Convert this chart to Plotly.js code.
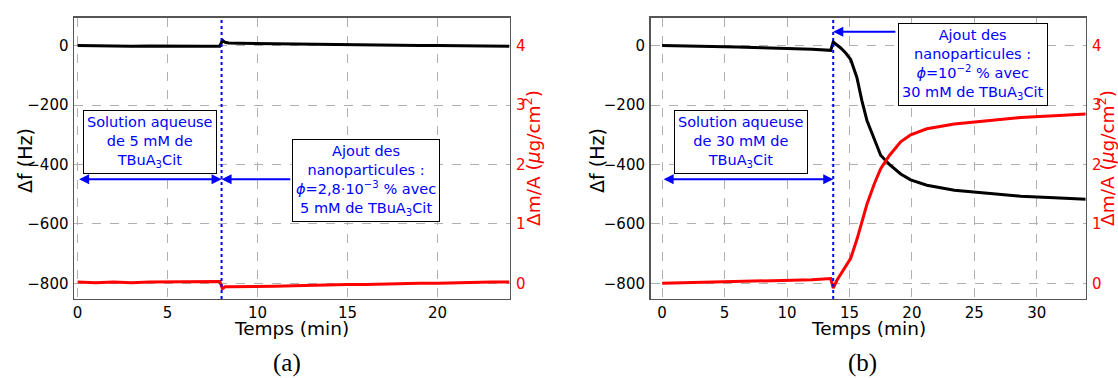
<!DOCTYPE html>
<html>
<head>
<meta charset="utf-8">
<script src="https://cdn.plot.ly/plotly-3.0.1.min.js"></script>
<style>html,body{margin:0;padding:0;background:#fff}#chart{width:1118px;height:378px}</style>
</head>
<body>
<div id="chart"></div>
<script>
// ---- Panel (a) data ----
const timeA = [0, 1, 2, 3, 4, 5, 6, 7, 7.9, 8.05, 8.2, 8.4, 9, 10, 11, 12, 13, 14, 15, 16, 17, 18, 19, 20, 21, 22, 23, 24];
const dfA   = [0, -1, 0, -2, -1, -2, -1, -2, -2, 18, 11, 9, 8, 7, 6, 5, 4, 4, 3, 2, 2, 1, 0, 0, -1, -1, -2, -2];
const dmA   = [0.02, 0.01, 0.02, 0.01, 0.02, 0.02, 0.03, 0.02, 0.03, -0.09, -0.06, -0.06, -0.06, -0.05, -0.05, -0.04, -0.03, -0.03, -0.02, -0.02, -0.01, -0.01, 0.0, 0.0, 0.01, 0.01, 0.02, 0.02];
const injectA = [8.0];

// ---- Panel (b) data ----
const timeB = [0, 2, 4, 6, 8, 10, 12, 13.5, 13.7, 14.0, 14.3, 14.7, 15.1, 15.6, 16.0, 16.4, 17.0, 17.5, 18.2, 19.1, 19.9, 21.2, 23.4, 26.0, 28.7, 31.4, 34.0];
const dfB   = [0, -1, -3, -5, -7, -9, -12, -16, 12, 2, -8, -25, -47, -108, -186, -252, -319, -369, -400, -432, -452, -470, -487, -498, -507, -512, -517];
const dmB   = [0.0, 0.01, 0.02, 0.03, 0.04, 0.05, 0.06, 0.08, -0.08, 0.05, 0.15, 0.27, 0.42, 0.74, 1.02, 1.33, 1.68, 1.93, 2.15, 2.38, 2.50, 2.60, 2.68, 2.74, 2.79, 2.82, 2.85];
const injectB = [13.7];

const xTicksA = [0, 5, 10, 15, 20];
const xTicksB = [0, 5, 10, 15, 20, 25, 30];
const dfTicks = [-800, -600, -400, -200, 0];
const dmTicks = [0, 1, 2, 3, 4];

const FONT = 'DejaVu Sans';
const BLUE = '#0000ff';
const RED = '#ff0000';
const yDom = [0.209, 0.9532];

function axisX(domain, range, ticks, anchor) {
  return {domain: domain, range: range, anchor: anchor, tickvals: ticks, ticks: '', 
    showgrid: true, gridcolor: '#b0b0b0', griddash: 'dash', gridwidth: 1,
    showline: true, mirror: true, linecolor: '#555', linewidth: 1.5, zeroline: false,
    tickfont: {family: FONT, size: 15, color: '#000'}};
}
function axisYL(anchor) {
  return {domain: yDom, range: [-853, 94], anchor: anchor, tickvals: dfTicks, ticks: '',
    showgrid: true, gridcolor: '#b0b0b0', griddash: 'dash', gridwidth: 1,
    showline: true, linecolor: '#555', linewidth: 1.5, zeroline: false,
    tickfont: {family: FONT, size: 15, color: '#000'}, ticklabelstandoff: 1};
}
function axisYR(overlay, anchor) {
  return {overlaying: overlay, side: 'right', anchor: anchor, range: [-0.265, 4.47], tickvals: dmTicks, ticks: '',
    showgrid: false, showline: true, linecolor: '#555', linewidth: 1.5, zeroline: false,
    tickfont: {family: FONT, size: 15, color: RED}, ticklabelstandoff: 2};
}

const traces = [
  {x: timeA, y: dfA, xaxis: 'x', yaxis: 'y', mode: 'lines', line: {color: '#000', width: 3}},
  {x: timeA, y: dmA, xaxis: 'x', yaxis: 'y2', mode: 'lines', line: {color: RED, width: 3}},
  {x: timeB, y: dfB, xaxis: 'x2', yaxis: 'y3', mode: 'lines', line: {color: '#000', width: 3}},
  {x: timeB, y: dmB, xaxis: 'x2', yaxis: 'y4', mode: 'lines', line: {color: RED, width: 3}}
];

function box(text, x, y, xref, yref) {
  return {text: text, x: x, y: y, xref: xref, yref: yref, showarrow: false, xanchor: 'center', yanchor: 'middle',
    font: {family: FONT, size: 14.5, color: BLUE}, bgcolor: '#fff', bordercolor: '#000', borderwidth: 1, borderpad: 3, align: 'center'};
}
function arrow(x, y, ax, ay, xref, yref, both) {
  return {text: '', x: x, y: y, ax: ax, ay: ay, xref: xref, yref: yref, axref: xref, ayref: yref,
    showarrow: true, arrowhead: 2, startarrowhead: 2, arrowside: both ? 'end+start' : 'end', arrowsize: 1, startarrowsize: 1,
    arrowwidth: 2, arrowcolor: BLUE, standoff: 0, startstandoff: 0};
}
function ptitle(text, x, y, color, angle, size, family) {
  return {text: text, x: x, y: y, xref: 'paper', yref: 'paper', showarrow: false, xanchor: 'center', yanchor: 'middle',
    textangle: angle || 0, font: {family: family || FONT, size: size || 19, color: color || '#000'}};
}

const sub = 'TBuA<sub>3</sub>Cit';
const annotations = [
  box('Solution aqueuse<br>de 5 mM de<br>' + sub, 4.0, -323, 'x', 'y'),
  box('Ajout des<br>nanoparticules :<br><i>ϕ</i>=2,8·10<sup>−3</sup> % avec<br>5 mM de ' + sub, 16.0, -454, 'x', 'y'),
  arrow(injectA[0], -450, 0, -450, 'x', 'y', true),
  arrow(injectA[0], -450, 11.9, -450, 'x', 'y', false),
  box('Solution aqueuse<br>de 30 mM de<br>' + sub, 6.32, -323, 'x2', 'y3'),
  box('Ajout des<br>nanoparticules :<br><i>ϕ</i>=10<sup>−2</sup> % avec<br>30 mM de ' + sub, 24.9, -62, 'x2', 'y3'),
  arrow(injectB[0], -450, 0, -450, 'x2', 'y3', true),
  arrow(injectB[0], 47, 18.8, 47, 'x2', 'y3', false),
  ptitle('Δf (Hz)', 25/1118, 1-161/378, '#000', -90),
  ptitle('Δm/A (<i>μ</i>g/cm<sup>2</sup>)', 532/1118, 1-158/378, RED, -90, 18.5),
  ptitle('Temps (min)', 291/1118, 1-328/378, '#000', 0, 18.5),
  ptitle('Δf (Hz)', 597/1118, 1-161/378, '#000', -90),
  ptitle('Δm/A (<i>μ</i>g/cm<sup>2</sup>)', 1106/1118, 1-158/378, RED, -90, 18.5),
  ptitle('Temps (min)', 868/1118, 1-328/378, '#000', 0, 18.5),
  ptitle('(a)', 287/1118, 1-363/378, '#000', 0, 25, 'Liberation Serif'),
  ptitle('(b)', 862/1118, 1-363/378, '#000', 0, 25, 'Liberation Serif')
];

const shapes = [
  {type: 'line', xref: 'x', yref: 'paper', x0: injectA[0], x1: injectA[0], y0: yDom[0], y1: yDom[1], line: {color: BLUE, width: 2, dash: 'dot'}},
  {type: 'line', xref: 'x2', yref: 'paper', x0: injectB[0], x1: injectB[0], y0: yDom[0], y1: yDom[1], line: {color: BLUE, width: 2, dash: 'dot'}}
];

const layout = {
  width: 1118, height: 378, margin: {l: 0, r: 0, t: 0, b: 0},
  paper_bgcolor: '#fff', plot_bgcolor: '#fff', showlegend: false,
  font: {family: FONT},
  xaxis: axisX([74/1118, 509.5/1118], [-0.2, 24.0], xTicksA, 'y'),
  yaxis: axisYL('x'),
  yaxis2: axisYR('y', 'x'),
  xaxis2: axisX([650.5/1118, 1085.5/1118], [-0.93, 33.9], xTicksB, 'y3'),
  yaxis3: axisYL('x2'),
  yaxis4: axisYR('y3', 'x2'),
  annotations: annotations,
  shapes: shapes
};

Plotly.newPlot('chart', traces, layout, {staticPlot: true, displayModeBar: false});
</script>
</body>
</html>
